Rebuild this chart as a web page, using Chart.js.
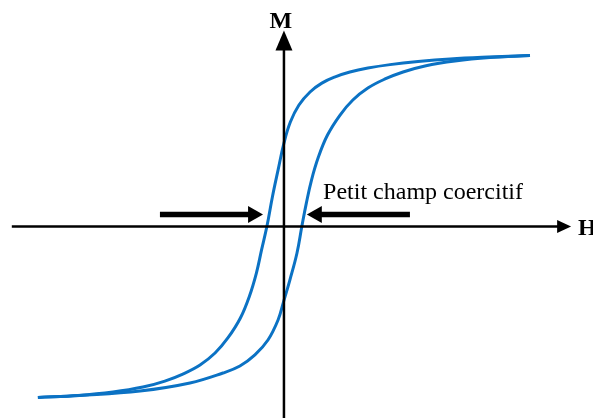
<!DOCTYPE html>
<html>
<head>
<meta charset="utf-8">
<script src="https://cdn.jsdelivr.net/npm/chart.js@4"></script>
<style>
  html, body { margin: 0; padding: 0; background: #fff; }
  canvas { display: block; }
</style>
</head>
<body>
<canvas id="loop" width="593" height="418"></canvas>
<script>
// hysteresis loop, H and M in % of saturation
const ascH = [-100, -82.9, -58.5, -38.2, -24.8, -17.9, -11.8, -6.5, -2.4, -0.2, 2.4, 5.3, 7.3, 9.1, 11.2, 14, 17.7, 22.8, 28, 34.1, 41.1, 48.4, 57.3, 69.5, 83.7, 100];
const ascM = [-100, -98.8, -96.2, -91.5, -85.7, -81.6, -75.1, -66.4, -54.7, -44.2, -31.3, -15.5, 0.3, 13.7, 27.2, 40.6, 53.5, 65.2, 74, 81, 86.3, 90.4, 93.9, 96.8, 98.8, 100];
const descH = [-100, -83.7, -69.5, -57.3, -48.4, -41.1, -34.1, -28, -22.8, -17.7, -14, -11.2, -9.1, -6.9, -4.7, -2.4, 0, 2.6, 6.1, 10.6, 15.4, 21.1, 26.8, 34.1, 43.1, 54.5, 67.5, 82.9, 100];
const descM = [-100, -98.8, -96.8, -93.9, -90.4, -86.3, -81, -74, -65.2, -53.5, -40.6, -27.2, -13.7, 0.3, 17.3, 33, 48.8, 61.1, 71.1, 78.7, 83.9, 87.7, 90.4, 92.7, 94.7, 96.5, 98, 99.1, 100];

// axis extents and labels
const hAxis = { from: -110.6, to: 116.7, label: 'H' };
const mAxis = { from: -115, to: 114.6, label: 'M' };

// arrows pointing at the coercive field
const arrows = [
  { tail: -50.4, tip: -8.5, m: 7 },
  { tail: 51.2, tip: 9.3, m: 7 }
];
const note = { text: 'Petit champ coercitif', h: 15.9, m: 16.1 };

const blue = '#0b72c4';
const toPts = (hs, ms) => hs.map((h, i) => ({ x: h, y: ms[i] }));

function arrowHead(ctx, tipX, tipY, dx, dy, len, half) {
  // dx,dy = unit direction of arrow
  const bx = tipX - dx * len, by = tipY - dy * len;
  ctx.beginPath();
  ctx.moveTo(tipX, tipY);
  ctx.lineTo(bx - dy * half, by + dx * half);
  ctx.lineTo(bx + dy * half, by - dx * half);
  ctx.closePath();
  ctx.fill();
}

const decor = {
  id: 'decor',
  afterDatasetsDraw(chart) {
    const ctx = chart.ctx, xs = chart.scales.x, ys = chart.scales.y;
    const x0 = xs.getPixelForValue(0), y0 = ys.getPixelForValue(0);
    ctx.save();
    ctx.strokeStyle = '#000';
    ctx.fillStyle = '#000';
    ctx.lineWidth = 2.5;

    // H axis
    const hx1 = xs.getPixelForValue(hAxis.from), hx2 = xs.getPixelForValue(hAxis.to);
    ctx.beginPath(); ctx.moveTo(hx1, y0); ctx.lineTo(hx2 - 12, y0); ctx.stroke();
    arrowHead(ctx, hx2, y0, 1, 0, 14, 6.5);
    // M axis
    const my1 = ys.getPixelForValue(mAxis.from), my2 = ys.getPixelForValue(mAxis.to);
    ctx.beginPath(); ctx.moveTo(x0, my1); ctx.lineTo(x0, my2 + 16); ctx.stroke();
    arrowHead(ctx, x0, my2, 0, -1, 20, 8.5);

    ctx.font = 'bold 24px "Liberation Serif", "Times New Roman", serif';
    ctx.textBaseline = 'alphabetic';
    ctx.textAlign = 'left';
    ctx.fillText(hAxis.label, hx2 + 7, y0 + 8);
    ctx.textAlign = 'center';
    ctx.fillText(mAxis.label, x0 - 3, my2 - 3);

    // coercive arrows
    ctx.lineWidth = 5.5;
    arrows.forEach(a => {
      const t = xs.getPixelForValue(a.tail), p = xs.getPixelForValue(a.tip), y = ys.getPixelForValue(a.m);
      const d = Math.sign(p - t);
      ctx.beginPath(); ctx.moveTo(t, y); ctx.lineTo(p - d * 13, y); ctx.stroke();
      arrowHead(ctx, p, y, d, 0, 15, 8.5);
    });

    ctx.font = '24px "Liberation Serif", "Times New Roman", serif';
    ctx.textAlign = 'left';
    ctx.fillText(note.text, xs.getPixelForValue(note.h), ys.getPixelForValue(note.m));
    ctx.restore();
  }
};

new Chart(document.getElementById('loop'), {
  type: 'scatter',
  data: {
    datasets: [
      { data: toPts(ascH, ascM) },
      { data: toPts(descH, descM) }
    ]
  },
  options: {
    responsive: false,
    animation: false,
    devicePixelRatio: 1,
    showLine: true,
    layout: { padding: 0 },
    elements: {
      point: { radius: 0 },
      line: { borderColor: blue, borderWidth: 3, tension: 0.4, capBezierPoints: true }
    },
    scales: {
      x: { type: 'linear', display: false, min: -115.4, max: 125.6 },
      y: { type: 'linear', display: false, min: -112, max: 132.5 }
    },
    plugins: { legend: { display: false }, tooltip: { enabled: false } }
  },
  plugins: [decor]
});
</script>
</body>
</html>
